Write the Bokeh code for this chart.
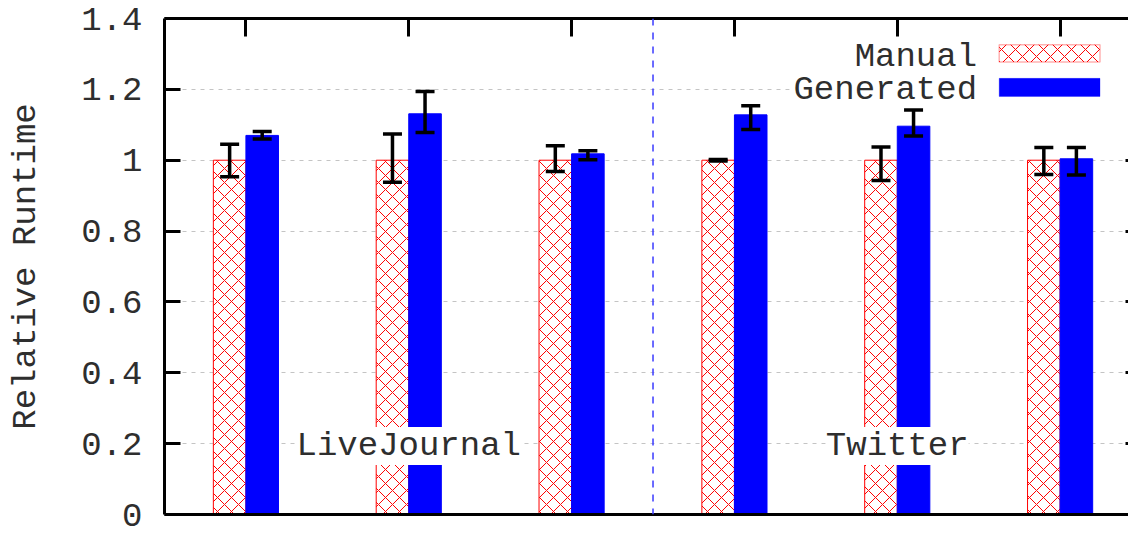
from bokeh.plotting import figure
from bokeh.models import (ColumnDataSource, FixedTicker, LinearAxis, Whisker, TeeHead,
                          Span, LabelSet, Label, BoxAnnotation)
from bokeh.core.properties import value
from bokeh.embed import file_html
from bokeh.resources import INLINE

# ---------------- data ----------------
groups = ["LiveJournal", "Twitter"]
algos = ["PR", "TC", "RW", "PR", "TC", "RW"]
manual = [1.0, 1.0, 1.0, 1.0, 1.0, 1.0]
manual_lo = [0.953, 0.938, 0.968, 0.998, 0.943, 0.960]
manual_hi = [1.045, 1.074, 1.041, 1.002, 1.037, 1.036]
generated = [1.070, 1.131, 1.018, 1.128, 1.096, 1.004]
gen_lo = [1.060, 1.078, 1.001, 1.087, 1.068, 0.958]
gen_hi = [1.081, 1.194, 1.027, 1.154, 1.142, 1.036]
y_ticks = [0, 0.2, 0.4, 0.6, 0.8, 1.0, 1.2, 1.4]
y_tick_labels = ["0", "0.2", "0.4", "0.6", "0.8", "1", "1.2", "1.4"]

FONT = "Liberation Mono"
FS = "34px"
TXT = "#2e2e2e"

idx = list(range(len(algos)))
per_group = len(algos) // len(groups)
src = ColumnDataSource(dict(
    xm=[i - 0.1 for i in idx], xg=[i + 0.1 for i in idx],
    manual=manual, manual_lo=manual_lo, manual_hi=manual_hi,
    generated=generated, gen_lo=gen_lo, gen_hi=gen_hi,
))
lab_src = ColumnDataSource(dict(x=idx, y=[-0.053] * len(idx), text=algos))
grp_src = ColumnDataSource(dict(
    x=[g * per_group + (per_group - 1) / 2 for g in range(len(groups))],
    y=[0.193] * len(groups), text=groups))

p = figure(width=1128, height=560, output_backend="svg", toolbar_location=None,
           x_range=(-0.5, 5.42), y_range=(0, 1.4),
           x_axis_location=None, y_axis_location=None,
           min_border_left=164, min_border_top=18, min_border_bottom=46, min_border_right=0)
p.outline_line_color = None
p.background_fill_color = "white"

# axes
left = LinearAxis(ticker=FixedTicker(ticks=y_ticks),
                  major_label_overrides={t: l for t, l in zip(y_ticks, y_tick_labels)},
                  axis_label="Relative Runtime")
left.major_tick_in = 16
left.major_tick_out = 0
left.minor_tick_in = 0
left.minor_tick_out = 0
left.major_tick_line_width = 3
left.axis_line_width = 3
left.major_label_standoff = 22
left.major_label_text_font = FONT
left.major_label_text_font_size = FS
left.major_label_text_color = TXT
left.axis_label_text_font = FONT
left.axis_label_text_font_size = FS
left.axis_label_text_font_style = "normal"
left.axis_label_text_color = TXT
left.axis_label_standoff = 33
p.add_layout(left, "left")

bottom = LinearAxis(ticker=FixedTicker(ticks=[], minor_ticks=[]))
bottom.major_tick_in = 0
bottom.major_tick_out = 0
bottom.minor_tick_in = 0
bottom.minor_tick_out = 0
bottom.axis_line_width = 3
bottom.major_label_standoff = 0
p.add_layout(bottom, "below")

top = LinearAxis(ticker=FixedTicker(ticks=[], minor_ticks=idx))
top.major_tick_in = 0
top.major_tick_out = 0
top.minor_tick_in = 18
top.minor_tick_out = 0
top.minor_tick_line_width = 3
top.minor_tick_line_color = "black"
top.axis_line_width = 3
top.major_label_standoff = 0
p.add_layout(top, "above")

right = LinearAxis(ticker=FixedTicker(ticks=[], minor_ticks=y_ticks))
right.major_tick_in = 0
right.major_tick_out = 0
right.minor_tick_in = 3
right.minor_tick_out = 0
right.minor_tick_line_width = 3
right.minor_tick_line_color = "black"
right.axis_line_alpha = 0
right.major_label_standoff = 0
p.add_layout(right, "right")

# grid
p.ygrid.ticker = FixedTicker(ticks=y_ticks[1:-1])
p.ygrid.grid_line_color = "#c4c4c4"
p.ygrid.grid_line_dash = "4 5"
p.ygrid.grid_line_width = 1
p.xgrid.grid_line_color = None

# divider between graphs
p.add_layout(Span(location=(per_group - 0.5), dimension="height",
                  line_color="#3a3aff", line_width=1.5, line_dash="7 7"))

# bars
p.vbar(x="xm", top="manual", width=0.2, source=src, fill_color="white",
       line_color="red", line_width=1, hatch_pattern="x", hatch_color="red",
       hatch_scale=14, hatch_weight=1)
p.vbar(x="xg", top="generated", width=0.2, source=src, fill_color="blue",
       line_color="blue", line_width=1)

# error bars
for xcol, lo, hi in (("xm", "manual_lo", "manual_hi"), ("xg", "gen_lo", "gen_hi")):
    w = Whisker(base=xcol, lower=lo, upper=hi, source=src, level="annotation",
                line_width=3.5, line_color="black",
                upper_head=TeeHead(size=19, line_width=3.5, line_color="black"),
                lower_head=TeeHead(size=19, line_width=3.5, line_color="black"))
    p.add_layout(w)

# group labels
p.add_layout(LabelSet(x="x", y="y", text="text", source=grp_src,
                      text_align="center", text_baseline="middle",
                      text_font=value(FONT), text_font_size=value(FS), text_color=TXT,
                      background_fill_color="white"))

# x tick labels
p.add_layout(LabelSet(x="x", y="y", text="text", source=lab_src,
                      text_align="center", text_baseline="top",
                      text_font=value(FONT), text_font_size=value(FS), text_color=TXT))

# legend (label left of swatch, like gnuplot key)
p.add_layout(BoxAnnotation(left=3.34, right=5.42, bottom=1.165, top=1.345,
                           fill_color="white", fill_alpha=1, line_color=None))
p.add_layout(BoxAnnotation(left=4.626, right=5.245, bottom=1.277, top=1.326,
                           fill_color="white", fill_alpha=1, line_color="red", line_width=1.5,
                           hatch_pattern="x", hatch_color="red", hatch_scale=14, hatch_weight=1))
p.add_layout(BoxAnnotation(left=4.626, right=5.245, bottom=1.180, top=1.231,
                           fill_color="blue", fill_alpha=1, line_color="blue"))
p.add_layout(Label(x=4.49, y=1.291, text="Manual", text_align="right", text_baseline="middle",
                   text_font=FONT, text_font_size=FS, text_color=TXT))
p.add_layout(Label(x=4.49, y=1.197, text="Generated", text_align="right", text_baseline="middle",
                   text_font=FONT, text_font_size=FS, text_color=TXT))

open("out.html", "w").write(file_html(p, INLINE))
